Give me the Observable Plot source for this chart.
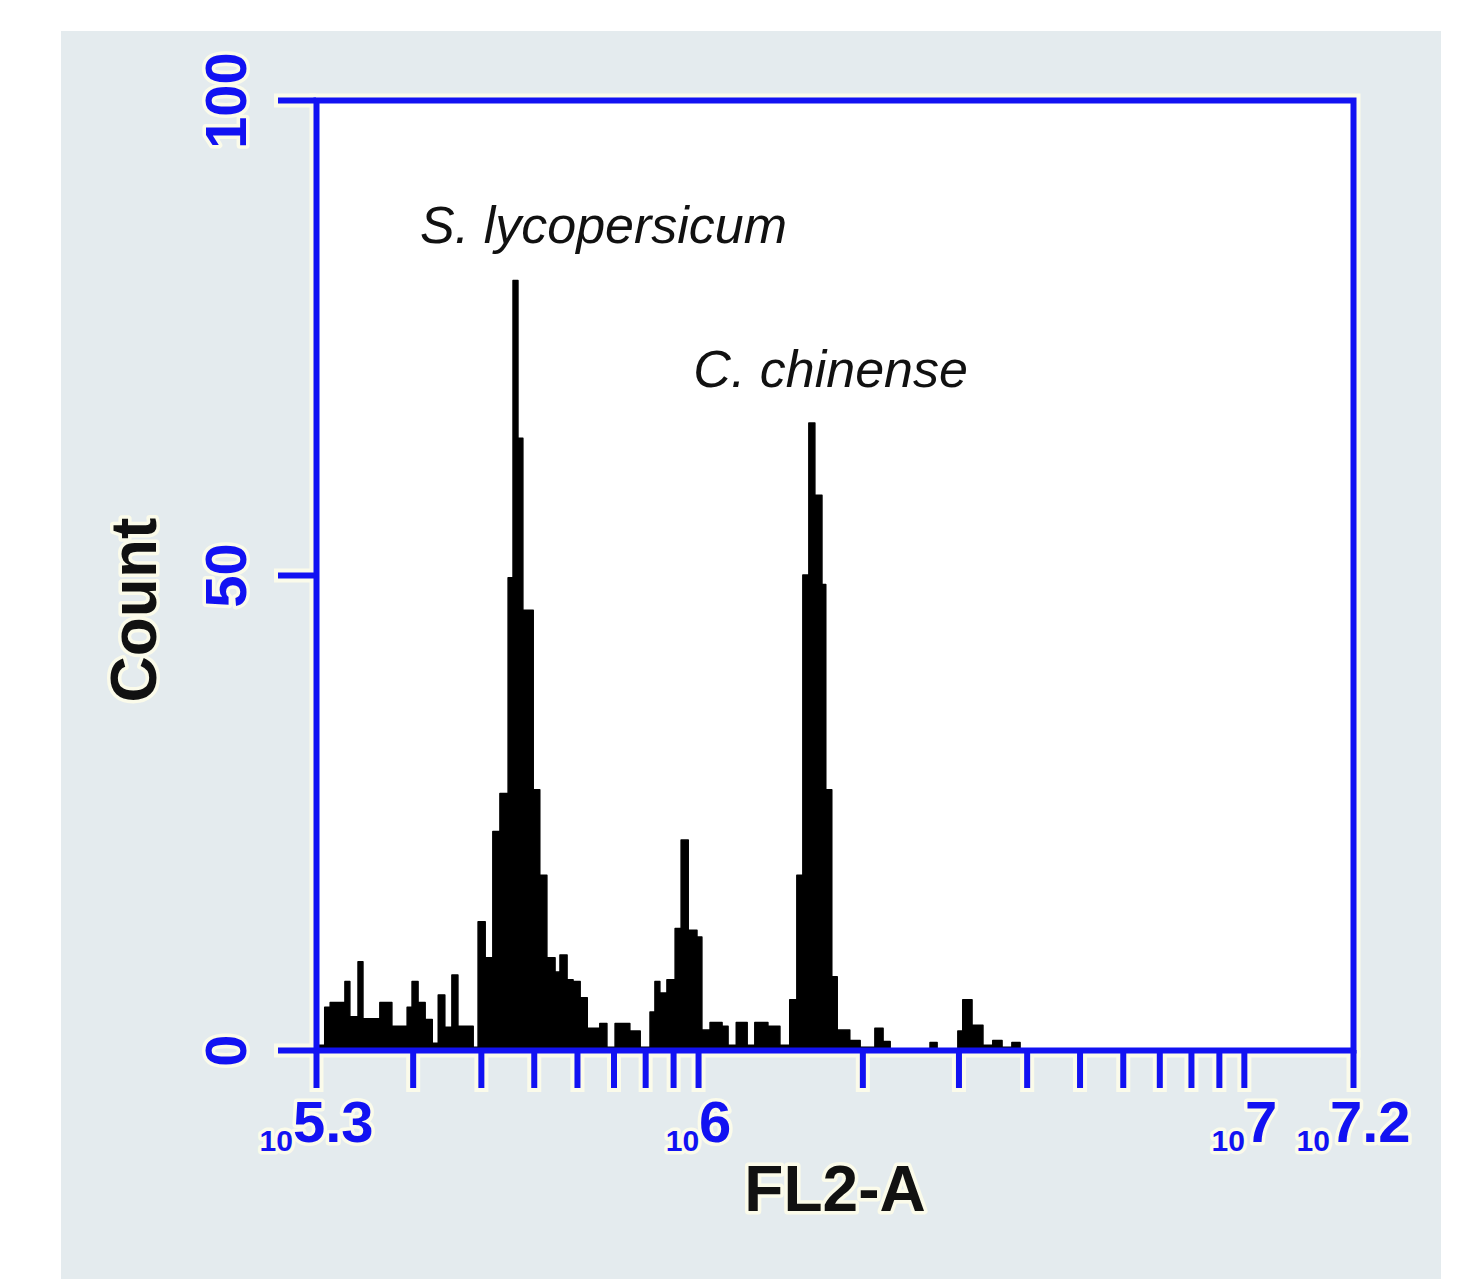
<!DOCTYPE html>
<html>
<head>
<meta charset="utf-8">
<script src="https://cdn.jsdelivr.net/npm/d3@7"></script>
<script src="https://cdn.jsdelivr.net/npm/@observablehq/plot@0.6"></script>
<style>
  html, body { margin: 0; padding: 0; background: #ffffff; }
  #chart { position: absolute; left: 61px; top: 31px; }
  #chart g[aria-label$="tick label"] text, #chart g[aria-label="text"] text {
    paint-order: stroke; stroke: #fbfbea; stroke-width: 7px; stroke-linejoin: round;
  }
  #chart text.noHalo { stroke: none !important; }
</style>
</head>
<body>
<div id="chart"></div>
<script>
// Histogram channels: left/right edges as log10(FL2-A), and counts per channel
const binEdgesLog10 = [
  5.300, 5.316, 5.326, 5.353, 5.362, 5.377, 5.386, 5.417, 5.439, 5.467,
  5.476, 5.487, 5.500, 5.513, 5.524, 5.536, 5.549, 5.560, 5.588, 5.597,
  5.610, 5.624, 5.637, 5.652, 5.661, 5.670, 5.679, 5.698, 5.710, 5.723,
  5.738, 5.747, 5.760, 5.771, 5.784, 5.797, 5.820, 5.833, 5.848, 5.875,
  5.894, 5.912, 5.921, 5.930, 5.943, 5.958, 5.969, 5.982, 5.998, 6.007,
  6.022, 6.044, 6.055, 6.070, 6.090, 6.104, 6.128, 6.150, 6.168, 6.181,
  6.192, 6.203, 6.214, 6.227, 6.234, 6.245, 6.255, 6.278, 6.297, 6.324,
  6.339, 6.352, 6.425, 6.438, 6.476, 6.485, 6.502, 6.522, 6.540, 6.557,
  6.575, 6.590
];
const binCounts = [
  0.5, 4.5, 5, 7.2, 3.5, 9.3, 3.3, 5, 2.5, 4.5,
  7.2, 5, 3.2, 0.7, 5.8, 2.4, 7.9, 2.5, 0.3, 13.5,
  9.7, 23, 27, 49.7, 81, 64.4, 46.3, 27.4, 18.4, 9.7,
  8.2, 10, 7.4, 7.2, 5.5, 2.3, 2.8, 0.3, 2.8, 2,
  0.3, 4, 7.2, 6, 7.4, 12.8, 22.1, 12.6, 11.9, 2.1,
  2.9, 2.5, 0.5, 2.9, 0.5, 2.9, 2.5, 0.5, 5.3, 18.4,
  50, 66, 58.4, 49, 27.4, 7.7, 2.1, 1, 0.3, 2.3,
  0.9, 0, 0.8, 0, 2, 5.3, 2.6, 0.5, 1, 0.3,
  0.8
];

// Axes
const xDomainLog10 = [5.3, 7.2];
const xLabelLog10 = [5.3, 6, 7, 7.2];
const xMinorTicks = [3e5, 4e5, 5e5, 6e5, 7e5, 8e5, 9e5, 2e6, 3e6, 4e6, 5e6, 6e6, 7e6, 8e6, 9e6];
const yTicks = [0, 50, 100];
const xLabel = "FL2-A";
const yLabel = "Count";

// Peak annotations
const annotationText = ["S. lycopersicum", "C. chinense"];
const annotationLog10 = [5.826, 6.242];
const annotationCount = [86.7, 71.6];

const BLUE = "#1212f2";
const HALO = "#fbfbea";
const BG = "#e4ebee";

const bins = binCounts.map((c, i) => ({
  x1: 10 ** binEdgesLog10[i],
  x2: 10 ** binEdgesLog10[i + 1],
  count: c
}));
const xLabelTicks = xLabelLog10.map(e => 10 ** e);
const allXTicks = [...xLabelTicks, ...xMinorTicks];
const annotations = annotationText.map((t, i) => ({text: t, x: 10 ** annotationLog10[i], y: annotationCount[i]}));

const chart = Plot.plot({
  width: 1380,
  height: 1248,
  marginLeft: 255,
  marginTop: 69,
  marginRight: 88,
  marginBottom: 229,
  style: {background: BG, fontFamily: "'Liberation Sans', Arial, sans-serif", overflow: "visible"},
  x: {type: "log", domain: xDomainLog10.map(e => 10 ** e)},
  y: {domain: [0, 100]},
  marks: [
    Plot.frame({stroke: HALO, strokeWidth: 14}),
    Plot.frame({fill: "white", stroke: null}),
    Plot.rect(bins, {x1: "x1", x2: "x2", y1: 0, y2: "count", fill: "black", stroke: "black", strokeWidth: 1.5, strokeLinejoin: "round"}),
    // halos of ticks
    Plot.axisX({ticks: allXTicks, tickSize: 42, stroke: HALO, strokeWidth: 14, tickFormat: () => "", label: null}),
    Plot.axisY({ticks: yTicks, tickSize: 42, stroke: HALO, strokeWidth: 14, tickFormat: () => "", label: null}),
    // blue ticks
    Plot.axisX({ticks: allXTicks, tickSize: 38, stroke: BLUE, strokeWidth: 6, tickFormat: () => "", label: null}),
    Plot.axisY({ticks: yTicks, tickSize: 38, stroke: BLUE, strokeWidth: 6, tickFormat: () => "", label: null}),
    Plot.frame({stroke: BLUE, strokeWidth: 6}),
    // tick labels
    Plot.axisX({ticks: xLabelTicks, tickSize: 0, tickPadding: 50, fill: BLUE, fontSize: 58, fontWeight: "bold",
      tickFormat: d => String(+Math.log10(d).toFixed(1)), label: null}),
    Plot.axisY({ticks: yTicks, tickSize: 0, tickPadding: 71, tickRotate: -90, fill: BLUE, fontSize: 58, fontWeight: "bold",
      tickFormat: d => String(d), label: null}),
    // axis titles
    Plot.text([yLabel], {frameAnchor: "left", dx: -181, dy: 127, rotate: -90, fontSize: 64, fontWeight: "bold", fill: "#111"}),
    Plot.text([xLabel], {frameAnchor: "bottom", dy: 160, fontSize: 64, fontWeight: "bold", fill: "#111"}),
    // annotations
    Plot.text(annotations, {x: "x", y: "y", text: "text", fontSize: 52, fontStyle: "italic", fill: "#111"})
  ]
});

// "10" written small and low before each exponent, as in the original labels
const ns = "http://www.w3.org/2000/svg";
chart.querySelectorAll('g[aria-label="x-axis tick label"] text').forEach(t => {
  const exp = t.textContent;
  if (!exp) return;
  t.textContent = "";
  const base = document.createElementNS(ns, "tspan");
  base.setAttribute("font-size", "30");
  base.setAttribute("dy", "9");
  base.textContent = "10";
  const ex = document.createElementNS(ns, "tspan");
  ex.setAttribute("dy", "-9");
  ex.textContent = exp;
  t.append(base, ex);
});
// annotations sit on white: no halo
const textGroups = chart.querySelectorAll('g[aria-label="text"]');
textGroups[textGroups.length - 1].querySelectorAll("text").forEach(t => t.classList.add("noHalo"));
document.getElementById("chart").append(chart);
</script>
</body>
</html>
